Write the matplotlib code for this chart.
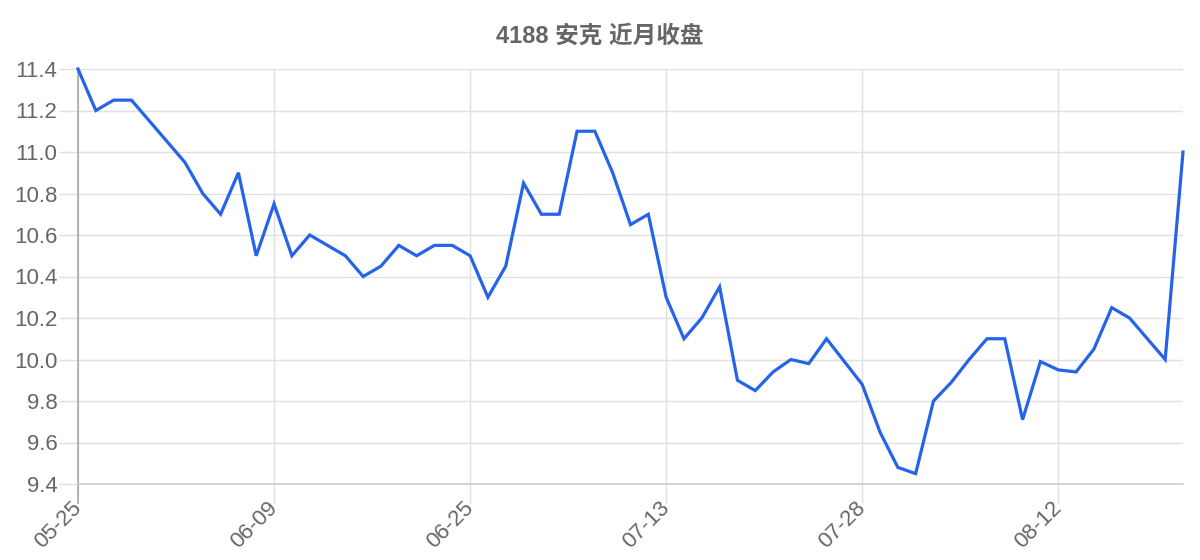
import matplotlib
matplotlib.use("Agg")
import matplotlib.pyplot as plt

plt.rcParams['font.family'] = ['Liberation Sans', 'Noto Sans CJK SC', 'DejaVu Sans']

title = "4188 安克 近月收盘"

dates = ["05-25", "05-26", "05-29", "05-30", "05-31", "06-01", "06-02", "06-05", "06-06", "06-07",
         "06-08", "06-09", "06-12", "06-13", "06-14", "06-15", "06-16", "06-17", "06-19", "06-20",
         "06-21", "06-24", "06-25", "06-27", "06-28", "06-29", "06-30", "07-03", "07-04", "07-05",
         "07-06", "07-07", "07-11", "07-13", "07-14", "07-17", "07-18", "07-19", "07-20", "07-21",
         "07-24", "07-25", "07-26", "07-27", "07-28", "07-31", "08-01", "08-02", "08-03", "08-04",
         "08-07", "08-08", "08-09", "08-10", "08-11", "08-12", "08-14", "08-15", "08-16", "08-17",
         "08-18", "08-21", "08-22"]

close = [11.40, 11.20, 11.25, 11.25, 11.15, 11.05, 10.95, 10.80, 10.70, 10.90,
         10.50, 10.75, 10.50, 10.60, 10.55, 10.50, 10.40, 10.45, 10.55, 10.50,
         10.55, 10.55, 10.50, 10.30, 10.45, 10.85, 10.70, 10.70, 11.10, 11.10,
         10.90, 10.65, 10.70, 10.30, 10.10, 10.20, 10.35, 9.90, 9.85, 9.94,
         10.00, 9.98, 10.10, 9.99, 9.88, 9.65, 9.48, 9.45, 9.80, 9.89,
         10.00, 10.10, 10.10, 9.71, 9.99, 9.95, 9.94, 10.05, 10.25, 10.20,
         10.10, 10.00, 11.00]

tick_every = 11
yticks = [9.4, 9.6, 9.8, 10.0, 10.2, 10.4, 10.6, 10.8, 11.0, 11.2, 11.4]

fig = plt.figure(figsize=(12, 5.6), dpi=100)
ax = fig.add_axes([78 / 1200, 1 - 484 / 560, (1183 - 78) / 1200, (484 - 69) / 560])

x = list(range(len(close)))
ax.plot(x, close, color="#2563EB", linewidth=2.3, solid_joinstyle="miter", clip_on=False, zorder=3)

ax.set_xlim(0, len(close) - 1)
ax.set_ylim(9.4, 11.4)
ax.set_yticks(yticks)
ax.set_yticklabels([f"{v:.1f}" for v in yticks])
tick_pos = list(range(0, len(close), tick_every))
ax.set_xticks(tick_pos)
ax.set_xticklabels([dates[i] for i in tick_pos], rotation=45, ha="right", va="center",
                   rotation_mode="anchor")

ax.grid(True, color="#e0e0e0", linewidth=1.0)
ax.set_axisbelow(True)
ax.tick_params(axis="both", length=13.7, width=1.0, color="#e0e0e0", labelcolor="#666666",
               labelsize=16, pad=1)
ax.tick_params(axis="x", pad=1.5)

for side in ["top", "right"]:
    ax.spines[side].set_visible(False)
ax.spines["left"].set_color("#aaaaaa")
ax.spines["left"].set_linewidth(1.2)
ax.spines["left"].set_bounds(9.4 - 19 / 207.5, 11.4)
ax.spines["bottom"].set_color("#cccccc")
ax.spines["bottom"].set_linewidth(1.2)

fig.text(0.5, 1 - 36 / 560, title, ha="center", va="center", fontsize=17,
         fontweight="bold", color="#666666")

fig.savefig("out.png", dpi=100)
